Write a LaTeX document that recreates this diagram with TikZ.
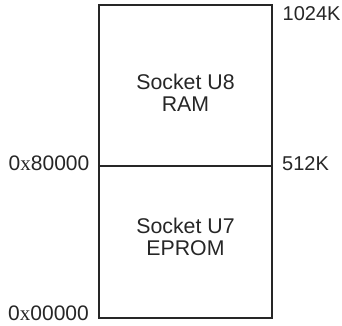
\documentclass[tikz,border=0pt]{standalone}
\usepackage{fontspec}
\setmainfont{Liberation Sans}
\newfontfamily\serifxfont{Liberation Serif}
\definecolor{ink}{HTML}{262626}
\tikzset{
  memline/.style={draw=ink, line width=1.1pt},
  lbl/.style={inner sep=0pt, text=ink, font=\fontsize{20}{22}\selectfont},
  hexlbl/.style={inner sep=0pt, text=ink, font=\fontsize{21}{22}\selectfont, anchor=base east},
  blk/.style={inner sep=0pt, text=ink, font=\fontsize{21.3}{22}\selectfont, anchor=base},
  sidetick/.style={draw=ink, line width=1.7pt}
}
\begin{document}
\begin{tikzpicture}[x=1pt,y=-1pt]
\useasboundingbox (0,0) rectangle (342,325);
\coordinate (tl) at (99,5);
\coordinate (br) at (272,318);
\coordinate (ml) at (99,166);
\coordinate (mr) at (272,166);
\draw[memline] (tl) rectangle (br);
\draw[memline] (ml) -- (mr);
\coordinate (t1a) at (99,132); \coordinate (t1b) at (99,143);
\coordinate (t2a) at (272,132); \coordinate (t2b) at (272,143);
\draw[sidetick] (t1a) -- (t1b);
\draw[sidetick] (t2a) -- (t2b);
\node[blk] (u8a) at (185.5,89.5) {Socket U8};
\node[blk] (u8b) at (185.5,111.5) {RAM};
\node[blk] (u7a) at (185.5,233) {Socket U7};
\node[blk] (u7b) at (185.5,255) {EPROM};
\node[lbl, anchor=base west] (k1024) at (282.5,20) {1024K};
\node[lbl, anchor=base west] (k512) at (282,170.5) {512K};
\node[hexlbl] (h8) at (89.5,170.5) {0{\serifxfont x}80000};
\node[hexlbl] (h0) at (89,320.8) {0{\serifxfont x}00000};
\end{tikzpicture}
\end{document}
